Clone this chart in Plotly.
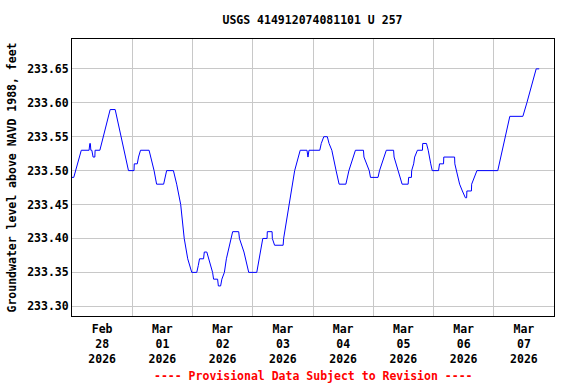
import datetime as dt
import plotly.graph_objects as go

# ---- data (hours after 2026-02-28 00:00, groundwater level in feet) ----
base_time = dt.datetime(2026, 2, 28, 0, 0)
hours = [
    0.0, 0.7, 3.7, 6.8, 7.1, 7.3, 7.5, 7.9, 8.4, 9.1, 9.2, 11.1, 15.2, 17.2,
    22.5, 24.7, 24.8, 26.0, 26.5, 27.3, 30.7, 32.7, 33.7, 36.5, 37.7, 40.4,
    41.7, 43.3, 44.7, 46.1, 47.7, 49.7, 50.3, 50.8, 52.4, 52.7, 53.7, 55.2,
    56.0, 56.4, 58.0, 58.3, 59.2, 59.7, 60.7, 61.5, 63.3, 64.0, 66.4, 66.7,
    68.5, 70.4, 73.6, 76.0, 77.7, 77.8, 79.7, 79.8, 80.7, 84.1, 84.3, 86.5,
    88.7, 90.9, 93.6, 94.0, 94.4, 98.7, 99.3, 100.3, 101.7, 102.4, 103.5,
    105.2, 106.4, 109.1, 109.7, 110.3, 112.9, 116.1, 116.3, 117.3, 118.4,
    118.9, 121.9, 122.5, 125.2, 128.1, 128.3, 129.9, 131.5, 133.9, 134.1,
    135.2, 135.3, 136.1, 136.5, 137.6, 139.6, 139.7, 141.2, 141.9, 142.3,
    142.9, 143.5, 146.0, 146.4, 148.0, 148.1, 152.4, 152.5, 153.2, 154.4,
    155.5, 156.7, 157.2, 157.3, 159.1, 159.2, 161.3, 169.6, 174.4, 179.6,
    181.2, 184.9, 186.1,
]
levels = [
    233.49, 233.49, 233.53, 233.53, 233.54, 233.54, 233.53, 233.53, 233.52,
    233.52, 233.53, 233.53, 233.59, 233.59, 233.50, 233.50, 233.51, 233.51,
    233.52, 233.53, 233.53, 233.50, 233.48, 233.48, 233.50, 233.50, 233.48,
    233.45, 233.40, 233.37, 233.35, 233.35, 233.36, 233.37, 233.37, 233.38,
    233.38, 233.36, 233.35, 233.34, 233.34, 233.33, 233.33, 233.34, 233.35,
    233.37, 233.40, 233.41, 233.41, 233.40, 233.38, 233.35, 233.35, 233.40,
    233.40, 233.41, 233.41, 233.40, 233.39, 233.39, 233.40, 233.45, 233.50,
    233.53, 233.53, 233.52, 233.53, 233.53, 233.54, 233.55, 233.55, 233.54,
    233.53, 233.50, 233.48, 233.48, 233.49, 233.50, 233.53, 233.53, 233.52,
    233.51, 233.50, 233.49, 233.49, 233.50, 233.53, 233.53, 233.52, 233.50,
    233.48, 233.48, 233.49, 233.49, 233.50, 233.51, 233.52, 233.53, 233.53,
    233.54, 233.54, 233.53, 233.52, 233.51, 233.50, 233.50, 233.51, 233.51,
    233.52, 233.52, 233.51, 233.50, 233.48, 233.47, 233.46, 233.46, 233.47,
    233.47, 233.48, 233.50, 233.50, 233.58, 233.58, 233.60, 233.65, 233.65,
]
day_labels = ["Feb<br>28<br>2026", "Mar<br>01<br>2026", "Mar<br>02<br>2026",
              "Mar<br>03<br>2026", "Mar<br>04<br>2026", "Mar<br>05<br>2026",
              "Mar<br>06<br>2026", "Mar<br>07<br>2026"]
y_ticks = [233.30, 233.35, 233.40, 233.45, 233.50, 233.55, 233.60, 233.65]
title_text = "USGS 414912074081101 U 257"
y_title = "Groundwater level above NAVD 1988, feet"
footer = "---- Provisional Data Subject to Revision ----"

times = [base_time + dt.timedelta(hours=h) for h in hours]
label_pos = [base_time + dt.timedelta(days=i, hours=12) for i in range(len(day_labels))]

FONT = "DejaVu Sans Mono"
FS = 11.5

fig = go.Figure()
fig.add_trace(go.Scatter(x=times, y=levels, mode="lines",
                         line=dict(color="#0000ff", width=1),
                         hoverinfo="x+y", showlegend=False))

fig.update_layout(
    width=576, height=384,
    margin=dict(l=72, r=22, t=39, b=68),
    paper_bgcolor="white", plot_bgcolor="white",
    font=dict(family=FONT, size=FS, color="black", weight="bold"),
    title=dict(text=title_text, x=0.5425, xanchor="center", y=0.948, yanchor="middle",
               font=dict(family=FONT, size=FS, color="black", weight="bold")),
    showlegend=False,
)
fig.update_xaxes(
    type="date",
    range=[base_time, base_time + dt.timedelta(days=8)],
    tickmode="array", tickvals=label_pos, ticktext=day_labels,
    showgrid=False, ticks="", ticklabelstandoff=2,
    minor=dict(showgrid=True, gridcolor="#c8c8c8", gridwidth=1,
               tick0=base_time, dtick=86400000, ticks=""),
    showline=True, mirror=True, linecolor="black", linewidth=1,
    zeroline=False,
    tickfont=dict(family=FONT, size=FS, color="black", weight="bold"),
)
fig.update_yaxes(
    range=[233.2857, 233.694],
    tickmode="array", tickvals=y_ticks, ticktext=[f"{v:.2f}" for v in y_ticks],
    showgrid=True, gridcolor="#c8c8c8", gridwidth=1, ticks="",
    showline=True, mirror=True, linecolor="black", linewidth=1,
    zeroline=False,
    title=dict(text=y_title, standoff=8,
               font=dict(family=FONT, size=FS, color="black", weight="bold")),
    tickfont=dict(family=FONT, size=FS, color="black", weight="bold"),
)
fig.add_annotation(text=footer, xref="paper", yref="paper", x=0.5, y=-0.215,
                   xanchor="center", yanchor="middle", showarrow=False,
                   font=dict(family=FONT, size=FS, color="#ff0000", weight="bold"))

fig.write_html("out.html", config={"displayModeBar": False},
               post_script="document.body.style.margin='0';document.body.style.overflow='hidden';")
